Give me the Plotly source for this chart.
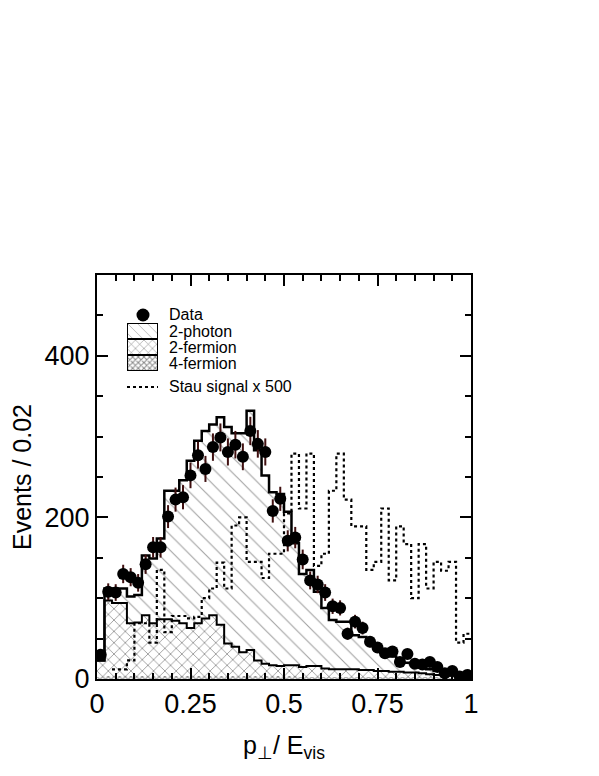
import numpy as np
import plotly.graph_objects as go

# bins of p_perp / E_vis, width 0.02
bin_width = 0.02
bin_lo = np.round(np.arange(0, 1, bin_width), 2)
bin_mid = bin_lo + bin_width / 2

data = [30, 108, 107, 130, 126, 119, 142, 163, 163, 201,
        222, 225, 252, 277, 260, 287, 299, 281, 290, 275,
        307, 291, 281, 208, 223, 171, 175, 148, 122, 117,
        107, 90, 88, 56, 71, 63, 46, 39, 32, 34,
        21, 31, 19, 18, 21, 15, 7, 10, 3, 5]

# top of the full background stack
bkg_total = [23, 112, 112, 112, 102, 104, 153, 149, 174, 233,
             233, 246, 270, 295, 307, 315, 324, 312, 304, 304,
             332, 283, 252, 231, 229, 207, 168, 130, 135, 108,
             88, 73, 71, 71, 54, 52, 44, 38, 33, 28,
             24, 20, 17, 14, 12, 10, 8, 7, 5, 4]

# top of 2-fermion + 4-fermion
ferm_total = [23, 97, 94, 94, 69, 70, 79, 69, 74, 74,
              72, 69, 63, 69, 75, 79, 67, 44, 40, 33,
              36, 23, 19, 17, 16, 17, 17, 15, 16, 16,
              13, 12, 12, 12, 12, 11, 11, 10, 10, 9,
              9, 8, 8, 7, 6, 5, 4, 4, 3, 3]

four_fermion = [2, 4, 4, 4, 4, 4, 4, 4, 4, 4,
                4, 4, 4, 4, 4, 4, 4, 4, 4, 4,
                4, 4, 4, 4, 4, 4, 4, 3, 3, 3,
                3, 3, 3, 3, 3, 3, 3, 3, 3, 3,
                3, 3, 3, 3, 3, 2, 2, 2, 2, 2]

stau = [0, 0, 12, 12, 23, 69, 69, 45, 135, 58,
        78, 78, 75, 77, 100, 112, 144, 112, 190, 200,
        145, 145, 125, 155, 155, 205, 279, 211, 279, 140,
        155, 233, 279, 222, 189, 189, 135, 145, 211, 122,
        189, 167, 100, 167, 112, 145, 134, 145, 45, 56]

two_fermion = np.array(ferm_total) - np.array(four_fermion)
two_photon = np.array(bkg_total) - np.array(ferm_total)

edges = np.append(bin_lo, 1.0)

legend_names = ["Data", "2-photon", "2-fermion", "4-fermion", "Stau signal x 500"]

patterns = {
    "2-photon": dict(shape="\\", fgcolor="#444", bgcolor="white", size=11, solidity=0.1,
                     fillmode="overlay"),
    "2-fermion": dict(shape="x", fgcolor="#000", bgcolor="white", size=8, solidity=0.17,
                      fillmode="overlay"),
    "4-fermion": dict(shape="x", fgcolor="#111", bgcolor="white", size=4, solidity=0.45,
                      fillmode="overlay"),
}


def step(vals):
    return list(vals) + [vals[-1]]


fig = go.Figure()

for name, vals in [("4-fermion", four_fermion), ("2-fermion", two_fermion),
                   ("2-photon", two_photon)]:
    fig.add_trace(go.Bar(
        x=bin_mid, y=vals, width=bin_width, name=name, showlegend=False,
        marker=dict(color="white", line=dict(width=0), pattern=patterns[name])))

# outlines
fig.add_trace(go.Scatter(x=edges, y=step(ferm_total), mode="lines", line_shape="hv",
                         line=dict(color="black", width=2), showlegend=False,
                         hoverinfo="skip"))
fig.add_trace(go.Scatter(x=edges, y=step(bkg_total), mode="lines", line_shape="hv",
                         line=dict(color="black", width=2.5), showlegend=False,
                         hoverinfo="skip"))

fig.add_trace(go.Scatter(
    x=edges[2:], y=step(stau[2:]), mode="lines", line_shape="hv", showlegend=False,
    line=dict(color="black", width=2.2, dash="dot")))

fig.add_trace(go.Scatter(
    x=bin_mid, y=data, mode="markers", showlegend=False,
    marker=dict(color="black", size=12),
    error_y=dict(type="sqrt", color="#401010", thickness=2, width=0)))

# legend patches on a small inset axis
for name in ["4-fermion", "2-fermion", "2-photon"]:
    pat = dict(patterns[name])
    if name == "2-photon":
        pat["size"] = 7
    if name == "2-fermion":
        pat["size"] = 6
    fig.add_trace(go.Bar(
        x=[1], y=[name], orientation="h", xaxis="x2", yaxis="y2", showlegend=False,
        marker=dict(color="white", line=dict(width=2, color="black"), pattern=pat),
        hoverinfo="skip"))

# legend texts and symbols
label_y = [0.901, 0.861, 0.820, 0.780, 0.723]
for name, yy in zip(legend_names, label_y):
    fig.add_annotation(text=name, xref="paper", yref="paper", x=0.188, y=yy,
                       xanchor="left", yanchor="middle", showarrow=False,
                       font=dict(size=16, color="black"))
fig.add_shape(type="circle", xref="paper", yref="paper",
              x0=0.1056, x1=0.1404, y0=0.8849, y1=0.9171,
              fillcolor="black", line=dict(color="black", width=0))
fig.add_shape(type="line", xref="paper", yref="paper",
              x0=0.0802, x1=0.1631, y0=0.723, y1=0.723,
              line=dict(color="black", width=2, dash="dot"))

axis_common = dict(
    showline=True, linecolor="black", linewidth=2, mirror="ticks",
    ticks="inside", tickcolor="black", tickwidth=2, ticklen=11,
    showgrid=False, zeroline=False, automargin=False,
    tickfont=dict(size=27, color="black"),
)

fig.update_xaxes(
    range=[0, 1], tickvals=[0, 0.25, 0.5, 0.75, 1],
    ticktext=["0", "0.25", "0.5", "0.75", "1"],
    minor=dict(dtick=0.05, ticks="inside", ticklen=6, tickcolor="black", tickwidth=2),
    title=dict(text="p<sub>⊥</sub>/ E<sub>vis</sub>", font=dict(size=25, color="black"),
               standoff=18),
    **axis_common)
fig.update_yaxes(
    range=[0, 500], tickvals=[0, 200, 400],
    minor=dict(dtick=50, ticks="inside", ticklen=6, tickcolor="black", tickwidth=2),
    title=dict(text="Events / 0.02", font=dict(size=25, color="black"), standoff=6),
    **axis_common)

# page body adds ~8px offset, so margins are shifted to land the frame where the reference has it
fig.update_layout(
    width=599, height=776,
    margin=dict(l=89, r=136, t=267, b=105),
    barmode="stack", bargap=0,
    plot_bgcolor="white", paper_bgcolor="white",
    font=dict(family="Liberation Sans, Arial, sans-serif", color="black"),
    showlegend=False,
    xaxis2=dict(domain=[0.0802, 0.1631], anchor="y2", range=[0, 1], visible=False,
                fixedrange=True),
    yaxis2=dict(domain=[0.7624, 0.8812], anchor="x2", visible=False, fixedrange=True,
                categoryorder="array", categoryarray=["4-fermion", "2-fermion", "2-photon"]),
)

fig.write_html("out.html")
